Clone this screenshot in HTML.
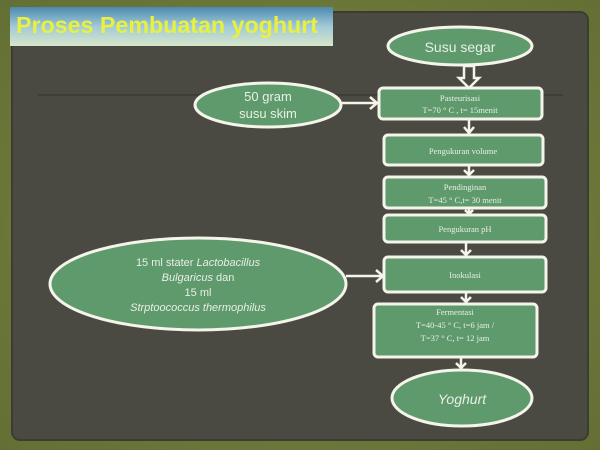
<!DOCTYPE html>
<html><head><meta charset="utf-8"><style>
body{margin:0;width:600px;height:450px;overflow:hidden;background:#6c7a3e;}
svg{display:block}
</style></head><body>
<svg width="600" height="450" xmlns="http://www.w3.org/2000/svg" font-family="Liberation Sans, sans-serif">
<defs>
<linearGradient id="tg" x1="0" y1="0" x2="0" y2="1">
<stop offset="0" stop-color="#4a8ab0"/><stop offset="0.5" stop-color="#a2cad8"/><stop offset="1" stop-color="#d6e6c8"/>
</linearGradient>
<radialGradient id="bg" cx="0.5" cy="0.5" r="0.75">
<stop offset="0" stop-color="#7d8846"/><stop offset="1" stop-color="#616d32"/>
</radialGradient>
</defs>
<rect width="600" height="450" fill="url(#bg)"/>
<rect x="12" y="12" width="576" height="428" rx="8" fill="#4b4a42" stroke="#3c3d32" stroke-width="2"/>
<rect x="10" y="7" width="323" height="39" fill="url(#tg)"/>
<text x="16" y="33" font-size="23" font-weight="bold" fill="#e8f040" textLength="302" lengthAdjust="spacingAndGlyphs">Proses Pembuatan yoghurt</text>
<line x1="38" y1="95" x2="563" y2="95" stroke="#3a3a30" stroke-width="1.5"/>
<g fill="#5f9a6d" stroke="#f4f4ea" stroke-width="3">
<ellipse cx="460" cy="46" rx="72" ry="19"/>
<ellipse cx="268" cy="105" rx="73" ry="22"/>
<ellipse cx="198" cy="284" rx="148" ry="46"/>
<ellipse cx="462" cy="398" rx="70" ry="28"/>
<rect x="379" y="88" width="163" height="31" rx="4"/>
<rect x="384" y="135" width="159" height="30" rx="4"/>
<rect x="384" y="177" width="162" height="31" rx="4"/>
<rect x="384" y="215" width="162" height="27" rx="4"/>
<rect x="384" y="257" width="162" height="35" rx="4"/>
<rect x="374" y="304" width="163" height="53" rx="4"/>
</g>
<g stroke="#f4f4ea" stroke-width="2.5" fill="none">
<path d="M464 66 V78 H459 L469 88 L479 78 H474 V66 Z"/>
<line x1="341" y1="103" x2="376" y2="103"/><path d="M370 97 L377 103 L370 109"/>
<line x1="346" y1="276" x2="382" y2="276"/><path d="M376 270 L383 276 L376 282"/>
<path d="M469 120 V133 M464 127 L469 133 L474 127"/>
<path d="M469 166 V175 M464 170 L469 175 L474 170"/>
<path d="M469 209 V214 M465 210 L469 214 L473 210"/>
<path d="M466 243 V255 M461 250 L466 255 L471 250"/>
<path d="M466 293 V302 M461 297 L466 302 L471 297"/>
<path d="M461 358 V368 M456 363 L461 368 L466 363"/>
</g>
<g fill="#e8efe4" text-anchor="middle">
<text x="460" y="52" font-size="14">Susu segar</text>
<text x="268" y="101" font-size="13">50 gram</text>
<text x="268" y="118" font-size="13">susu skim</text>
<text x="198" y="266" font-size="11">15 ml stater <tspan font-style="italic">Lactobacillus</tspan></text>
<text x="198" y="281" font-size="11" font-style="italic">Bulgaricus <tspan font-style="normal">dan</tspan></text>
<text x="198" y="296" font-size="11">15 ml</text>
<text x="198" y="311" font-size="11" font-style="italic">Strptoococcus thermophilus</text>
<text x="462" y="404" font-size="14" font-style="italic">Yoghurt</text>
<g font-family="Liberation Serif, serif" font-size="8.5">
<text x="460" y="101">Pasteurisasi</text>
<text x="460" y="113">T=70 ° C , t= 15menit</text>
<text x="463" y="154">Pengukuran volume</text>
<text x="465" y="190">Pendinginan</text>
<text x="465" y="203">T=45 ° C,t= 30 menit</text>
<text x="465" y="232">Pengukuran pH</text>
<text x="465" y="278">Inokulasi</text>
<text x="455" y="315">Fermentasi</text>
<text x="455" y="328">T=40-45 ° C, t=6 jam /</text>
<text x="455" y="341">T=37 ° C, t= 12 jam</text>
</g>
</g>
</svg>
</body></html>
